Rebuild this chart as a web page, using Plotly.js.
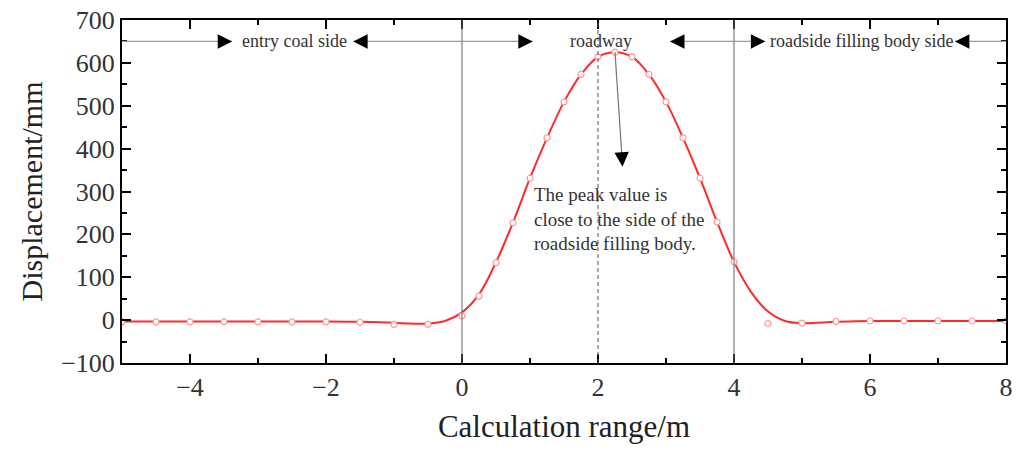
<!DOCTYPE html>
<html><head><meta charset="utf-8">
<script src="https://cdn.plot.ly/plotly-3.0.1.min.js"></script>
<style>body{margin:0;background:#fff}#chart{width:1021px;height:452px}</style>
</head><body><div id="chart"></div>
<script>
// measured points (open markers)
const pointX = [-5,-4.5,-4,-3.5,-3,-2.5,-2,-1.5,-1,-0.5,0,0.25,0.5,0.75,1,1.25,1.5,1.75,2,2.25,2.5,2.75,3,3.25,3.5,3.75,4,4.5,5,5.5,6,6.5,7,7.5,8];
const pointY = [-4,-4,-4,-4,-4,-4,-4,-5,-10,-10,10,56,134,227,331,425,509,573,614,625,614,573,509,425,331,229,136,-8,-7,-3,-2,-2,-2,-2,-2];
// fitted curve
const curveX = [-5,-4,-3,-2,-1.5,-1,-0.75,-0.5,-0.25,0,0.25,0.5,0.75,1,1.25,1.5,1.75,2,2.25,2.5,2.75,3,3.25,3.5,3.75,4,4.25,4.5,4.75,5,5.5,6,7,8];
const curveY = [-3,-3,-3,-3,-4,-6,-8,-8,-2,18,60,135,228,331,425,509,573,614,625,614,573,509,425,331,229,136,66,20,-2,-7,-4,-2,-2,-2];
// region labels and arrow tips
const regionLabels = ["entry coal side","roadway","roadside filling body side"];
const regionLabelX = [-2.46, 2.04, 5.88];
const arrowLevel = 650;
const boundaryX = [0, 4];
const roadwayCenterX = 2;
const rightTips = [-3.38, 1.04, 4.46];
const leftTips = [-1.6, 3.06, 7.25];
const peakNote = "The peak value is<br>close to the side of the<br>roadside filling body.";

const serif = "Liberation Serif, Times New Roman, serif";
const shapes = [];
boundaryX.forEach(x => shapes.push({type:'line', xref:'x', yref:'paper', x0:x, x1:x, y0:0, y1:1, line:{color:'#666', width:1}}));
shapes.push({type:'line', xref:'x', yref:'paper', x0:roadwayCenterX, x1:roadwayCenterX, y0:0, y1:1, line:{color:'#555', width:1, dash:'4px,3px'}});
// gray horizontal arrow lines
const grayLine = {color:'#999', width:1.2};
shapes.push({type:'line', xref:'x', yref:'y', x0:-5, x1:rightTips[0], y0:arrowLevel, y1:arrowLevel, line:grayLine});
shapes.push({type:'line', xref:'x', yref:'y', x0:leftTips[0], x1:rightTips[1], y0:arrowLevel, y1:arrowLevel, line:grayLine});
shapes.push({type:'line', xref:'x', yref:'y', x0:leftTips[1], x1:rightTips[2], y0:arrowLevel, y1:arrowLevel, line:grayLine});
shapes.push({type:'line', xref:'x', yref:'y', x0:leftTips[2], x1:8, y0:arrowLevel, y1:arrowLevel, line:grayLine});
// peak arrow line
shapes.push({type:'line', xref:'x', yref:'y', x0:2.25, x1:2.35, y0:625, y1:385, line:{color:'#777', width:1.2}});

const annotations = [];
regionLabels.forEach((t,i) => annotations.push({x:regionLabelX[i], y:arrowLevel, xref:'x', yref:'y', text:t, showarrow:false, font:{family:serif, size:18, color:'#333'}}));
const head = {xref:'x', yref:'y', text:'', font:{size:1}, showarrow:true, arrowhead:2, arrowsize:2.4, arrowwidth:1.2, arrowcolor:'#000'};
rightTips.forEach(x => annotations.push(Object.assign({x:x, y:arrowLevel, ax:-14, ay:0}, head)));
leftTips.forEach(x => annotations.push(Object.assign({x:x, y:arrowLevel, ax:14, ay:0}, head)));
annotations.push(Object.assign({x:2.36, y:358, ax:-0.8, ay:-14}, head));
annotations.push({x:1.03, y:322, xref:'x', yref:'y', xanchor:'left', yanchor:'top', align:'left', text:peakNote, showarrow:false, font:{family:serif, size:19, color:'#333'}});

const data = [
  {x:curveX, y:curveY, mode:'lines', line:{color:'#ff2a2a', width:2, shape:'spline', smoothing:1}, hoverinfo:'skip'},
  {x:pointX, y:pointY, mode:'markers', marker:{symbol:'circle', size:6, color:'#fff', line:{width:1.2, color:'#ff9a9a'}}}
];
const axisCommon = {showline:true, linecolor:'#000', linewidth:2, mirror:'ticks', ticks:'inside', ticklen:9, tickwidth:2, tickcolor:'#000', showgrid:false, zeroline:false,
  tickfont:{family:serif, size:26, color:'#333'}};
const layout = {
  width:1021, height:452, margin:{l:122, r:15, t:20, b:89},
  paper_bgcolor:'#fff', plot_bgcolor:'#fff', showlegend:false,
  xaxis:Object.assign({}, axisCommon, {range:[-5,8], dtick:2, tick0:0, minor:{dtick:1, ticks:'inside', ticklen:5, tickwidth:2, tickcolor:'#000'},
    title:{text:'Calculation range/m', font:{family:serif, size:31, color:'#222'}, standoff:14}}),
  yaxis:Object.assign({}, axisCommon, {range:[-100,700], dtick:100, minor:{dtick:50, ticks:'inside', ticklen:5, tickwidth:2, tickcolor:'#000'},
    title:{text:'Displacement/mm', font:{family:serif, size:30, color:'#222'}, standoff:10}}),
  shapes:shapes, annotations:annotations
};
Plotly.newPlot('chart', data, layout, {displayModeBar:false, staticPlot:true});
</script></body></html>
